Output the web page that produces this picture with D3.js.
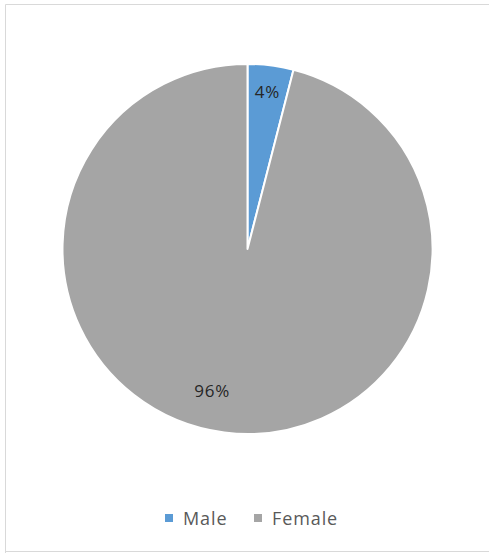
<!DOCTYPE html>
<html><head><meta charset="utf-8">
<script src="https://cdn.jsdelivr.net/npm/d3@7"></script>
<style>body{margin:0;background:#fff}svg{display:block}</style>
</head><body><svg id="c" width="489" height="553"></svg>
<script>
const categories = ["Male", "Female"];
const values = [4, 96];
const labels = ["4%", "96%"];
const colors = ["#5B9BD5", "#A5A5A5"];

const svg = d3.select("#c");
// chart border
svg.append("path").attr("d","M5.5,553 V4.5 H489 M5,551.5 H489")
  .attr("fill","none").attr("stroke","#d9d9d9").attr("stroke-width",1);

const cx = 247.5, cy = 249, R = 185;
const g = svg.append("g").attr("transform",`translate(${cx},${cy})`);
const pie = d3.pie().sort(null).value(d=>d)(values);
const arc = d3.arc().innerRadius(0).outerRadius(R);
g.selectAll("path.s").data(pie).enter().append("path")
  .attr("d",arc).attr("fill",(d,i)=>colors[i])
  .attr("stroke","#fff").attr("stroke-width",2).attr("stroke-linejoin","round");

const font = "'Open Sans', 'Liberation Sans', sans-serif";
const labelR = [0.86*R, 0.786*R];
const labelDA = [0, 0.12];
g.selectAll("text.l").data(pie).enter().append("text")
  .attr("x",(d,i)=>{const a=(d.startAngle+d.endAngle)/2+labelDA[i];return Math.sin(a)*labelR[i];})
  .attr("y",(d,i)=>{const a=(d.startAngle+d.endAngle)/2+labelDA[i];return -Math.cos(a)*labelR[i];})
  .attr("text-anchor","middle").attr("dominant-baseline","central")
  .attr("font-family",font).attr("font-size",17).attr("letter-spacing",0.8)
  .attr("fill","#262626").text((d,i)=>labels[i]);

// legend
const leg = svg.append("g").attr("transform","translate(0,518)");
const legX = [165, 254];
categories.forEach((c,i)=>{
  leg.append("rect").attr("x",legX[i]).attr("y",-4).attr("width",8).attr("height",8).attr("fill",colors[i]);
  leg.append("text").attr("x",legX[i]+18).attr("y",0).attr("dominant-baseline","central")
    .attr("font-family",font).attr("font-size",18).attr("letter-spacing",0.9)
    .attr("fill","#595959").text(c);
});
</script></body></html>
